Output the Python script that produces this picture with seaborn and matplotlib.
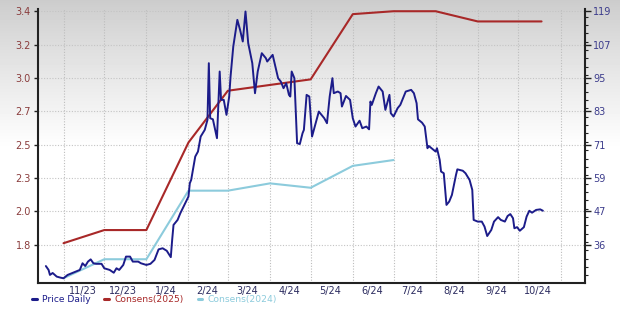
import numpy as np
import pandas as pd
import matplotlib
matplotlib.use("Agg")
import matplotlib.pyplot as plt
import matplotlib.dates as mdates
from matplotlib.lines import Line2D
from matplotlib.ticker import MultipleLocator
import seaborn as sns

# ---------------- data ----------------
price_dates = [
    "2023-10-19", "2023-10-21", "2023-10-22", "2023-10-24", "2023-10-27", "2023-10-30",
    "2023-11-01", "2023-11-04", "2023-11-07", "2023-11-10", "2023-11-13", "2023-11-15",
    "2023-11-17", "2023-11-19", "2023-11-21", "2023-11-23", "2023-11-25", "2023-11-29",
    "2023-12-01", "2023-12-05", "2023-12-08", "2023-12-10", "2023-12-12", "2023-12-15",
    "2023-12-17", "2023-12-20", "2023-12-22", "2023-12-26", "2023-12-28", "2024-01-01",
    "2024-01-04", "2024-01-07", "2024-01-10", "2024-01-13", "2024-01-16", "2024-01-19",
    "2024-01-20", "2024-01-21", "2024-01-24", "2024-01-26", "2024-01-29", "2024-02-01",
    "2024-02-02", "2024-02-03", "2024-02-06", "2024-02-08", "2024-02-10", "2024-02-13",
    "2024-02-15", "2024-02-16", "2024-02-17", "2024-02-19", "2024-02-22", "2024-02-24",
    "2024-02-25", "2024-02-27", "2024-02-29", "2024-03-02", "2024-03-03", "2024-03-05",
    "2024-03-08", "2024-03-10", "2024-03-12", "2024-03-14", "2024-03-16", "2024-03-19",
    "2024-03-21", "2024-03-23", "2024-03-26", "2024-03-29", "2024-03-30", "2024-04-03",
    "2024-04-05", "2024-04-07", "2024-04-09", "2024-04-11", "2024-04-13", "2024-04-15",
    "2024-04-16", "2024-04-17", "2024-04-19", "2024-04-21", "2024-04-23", "2024-04-25",
    "2024-04-26", "2024-04-28", "2024-04-30", "2024-05-02", "2024-05-05", "2024-05-07",
    "2024-05-11", "2024-05-13", "2024-05-15", "2024-05-17", "2024-05-18", "2024-05-21",
    "2024-05-23", "2024-05-24", "2024-05-27", "2024-05-30", "2024-06-01", "2024-06-03",
    "2024-06-06", "2024-06-08", "2024-06-11", "2024-06-13", "2024-06-14", "2024-06-15",
    "2024-06-18", "2024-06-20", "2024-06-23", "2024-06-25", "2024-06-28", "2024-06-29",
    "2024-07-01", "2024-07-04", "2024-07-06", "2024-07-10", "2024-07-14", "2024-07-16",
    "2024-07-18", "2024-07-19", "2024-07-22", "2024-07-24", "2024-07-26", "2024-07-27",
    "2024-07-30", "2024-08-01", "2024-08-02", "2024-08-04", "2024-08-05", "2024-08-07",
    "2024-08-09", "2024-08-11", "2024-08-13", "2024-08-16", "2024-08-17", "2024-08-21",
    "2024-08-23", "2024-08-26", "2024-08-28", "2024-08-29", "2024-09-01", "2024-09-04",
    "2024-09-06", "2024-09-08", "2024-09-11", "2024-09-13", "2024-09-16", "2024-09-18",
    "2024-09-21", "2024-09-23", "2024-09-25", "2024-09-27", "2024-09-28", "2024-09-30",
    "2024-10-02", "2024-10-05", "2024-10-07", "2024-10-09", "2024-10-11", "2024-10-14",
    "2024-10-17", "2024-10-19",
]
price_values = [
    27.3, 25.9, 24.1, 24.8, 23.5, 23.1,
    22.9, 24.1, 24.7, 25.3, 25.9, 28.3,
    27.3, 28.9, 29.7, 28.3, 28.1, 28.1,
    26.5, 25.9, 24.9, 26.5, 25.9, 27.7,
    30.7, 30.7, 28.9, 28.9, 28.3, 27.7,
    28.1, 29.5, 33.3, 33.7, 32.8, 30.5,
    36.7, 42.1, 43.9, 46.3, 49.3, 52.3,
    57.1, 58.3, 66.7, 68.5, 73.9, 76.3,
    79.9, 100.3, 80.5, 80.1, 73.3, 97.3,
    87.1, 87.1, 81.7, 88.3, 95.5, 106.3,
    115.9, 112.3, 108.1, 118.9, 107.5, 100.3,
    89.5, 97.3, 103.9, 102.1, 100.9, 103.3,
    99.1, 94.9, 93.7, 91.3, 93.1, 88.9,
    88.3, 97.3, 94.9, 71.5, 71.2, 75.1,
    76.3, 88.9, 88.3, 73.9, 79.3, 82.9,
    80.5, 78.7, 88.3, 94.9, 89.5, 90.1,
    89.5, 84.7, 88.5, 87.1, 80.5, 77.5,
    79.6, 76.9, 77.5, 76.5, 86.5, 85.3,
    89.5, 91.9, 90.1, 83.5, 88.9, 82.3,
    81.1, 84.1, 85.3, 90.1, 90.7, 89.5,
    85.9, 80.1, 78.9, 77.5, 69.7, 70.5,
    69.3, 68.5, 69.7, 65.5, 61.3, 60.7,
    49.3, 50.5, 52.9, 60.1, 62.1, 61.6,
    60.7, 58.3, 54.7, 43.9, 43.3, 43.3,
    41.5, 38.1, 40.3, 43.3, 44.9, 43.9,
    43.3, 45.3, 46.0, 44.5, 40.9, 41.3,
    40.0, 41.3, 45.1, 47.2, 46.5, 47.5,
    47.7, 47.2,
]

cons2025_dates = ["2023-11-01", "2023-12-01", "2024-01-01", "2024-02-01", "2024-03-01",
                  "2024-05-01", "2024-06-01", "2024-07-01", "2024-08-01", "2024-09-01",
                  "2024-10-18"]
cons2025_values = [1.81, 1.90, 1.90, 2.50, 2.855, 2.933, 3.38, 3.40, 3.40, 3.33, 3.33]

cons2024_dates = ["2023-11-01", "2023-12-01", "2024-01-01", "2024-02-01", "2024-03-01",
                  "2024-04-01", "2024-05-01", "2024-06-01", "2024-07-01"]
cons2024_values = [1.57, 1.70, 1.70, 2.17, 2.17, 2.22, 2.19, 2.34, 2.38]

left_tick_labels = ["1.8", "2.0", "2.3", "2.5", "2.7", "3.0", "3.2", "3.4"]
right_tick_labels = ["36", "47", "59", "71", "83", "95", "107", "119"]
month_labels = ["11/23", "12/23", "1/24", "2/24", "3/24", "4/24", "5/24", "6/24",
                "7/24", "8/24", "9/24", "10/24"]
legend_labels = ["Price Daily", "Consens(2025)", "Consens(2024)"]

# ---------------- styling ----------------
NAVY = "#1c1c8a"
RED = "#a82828"
LIGHT = "#8ccbdc"
LEFT_TXT = "#8a3c3c"
RIGHT_TXT = "#3c3c8c"
BOTTOM_TXT = "#2c2c60"

sns.set_style("white")
plt.rcParams["font.family"] = ["DejaVu Sans"]

fig = plt.figure(figsize=(6.2, 3.1), dpi=100)

# gradient background
bg = fig.add_axes([0, 0, 1, 1], zorder=-10)
rows = np.linspace(0, 1, 310)
shade = 0.80 + 0.20 * np.clip(rows / 0.48, 0, 1) ** 0.9
bg.imshow(np.tile(shade[:, None], (1, 10)), cmap="gray", vmin=0, vmax=1,
          aspect="auto", extent=[0, 1, 0, 1])
bg.axis("off")

ax = fig.add_axes([38 / 620, 1 - 283 / 310, (585 - 38) / 620, (283 - 9) / 310])
ax.set_facecolor("none")
ax2 = ax.twinx()
ax2.set_facecolor("none")

df_price = pd.DataFrame({"date": pd.to_datetime(price_dates), "value": price_values})
df_c25 = pd.DataFrame({"date": pd.to_datetime(cons2025_dates), "value": cons2025_values})
df_c24 = pd.DataFrame({"date": pd.to_datetime(cons2024_dates), "value": cons2024_values})

sns.lineplot(data=df_c24, x="date", y="value", ax=ax, color=LIGHT, lw=1.5)
sns.lineplot(data=df_c25, x="date", y="value", ax=ax, color=RED, lw=1.5)
sns.lineplot(data=df_price, x="date", y="value", ax=ax2, color=NAVY, lw=1.4)

# y scales (aligned)
r_bottom, r_top = 21.2, 119.8
ax2.set_ylim(r_bottom, r_top)
ax.set_ylim(1.8 + (r_bottom - 35) / 52.5, 1.8 + (r_top - 35) / 52.5)

left_pos = np.linspace(1.8, 3.4, len(left_tick_labels))
ax.set_yticks(left_pos)
ax.set_yticklabels(left_tick_labels)
right_pos = np.arange(35, 120, 12)
ax2.set_yticks(right_pos)
ax2.set_yticklabels(right_tick_labels)
ax2.yaxis.set_minor_locator(MultipleLocator(3))

# x scale
ax.set_xlim(pd.Timestamp("2023-10-13 05:00"), pd.Timestamp("2024-11-19"))
month_starts = pd.date_range("2023-11-01", "2024-11-01", freq="MS")
mid_months = pd.date_range("2023-11-01", "2024-10-01", freq="MS") + pd.Timedelta(days=14)
ax.set_xticks(mid_months)
ax.set_xticklabels(month_labels)
for m in month_starts:
    ax.axvline(m, color="#bdbdbd", lw=0.8, ls=(0, (1, 1.5)), zorder=0)
for p in left_pos:
    ax.axhline(p, color="#c4c4c4", lw=0.8, ls=(0, (1, 1.5)), zorder=0)

for a in (ax, ax2):
    a.set_xlabel("")
    a.set_ylabel("")
    for s in a.spines.values():
        s.set_visible(False)
ax.spines["left"].set_visible(True)
ax.spines["bottom"].set_visible(True)
ax2.spines["right"].set_visible(True)
for s in (ax.spines["left"], ax.spines["bottom"], ax2.spines["right"]):
    s.set_color("#222222")
    s.set_linewidth(1.5)

ax.tick_params(axis="y", left=True, length=3, width=1, colors="#222222",
               labelcolor=LEFT_TXT, labelsize=7, pad=2)
ax.tick_params(axis="x", bottom=False, length=0, labelcolor=BOTTOM_TXT,
               labelsize=7, pad=2.5)
ax2.tick_params(axis="y", which="major", right=True, length=4, width=1,
                colors="#222222", labelcolor=RIGHT_TXT, labelsize=7, pad=2)
ax2.tick_params(axis="y", which="minor", right=True, length=2.5, width=0.8,
                colors="#222222")

# legend
handles = [Line2D([0], [0], color=NAVY, lw=2.2),
           Line2D([0], [0], color=RED, lw=2.2),
           Line2D([0], [0], color=LIGHT, lw=2.2)]
leg = fig.legend(handles, legend_labels, loc="lower left",
                 bbox_to_anchor=(0.042, 0.0), ncol=3, frameon=False,
                 fontsize=6.6, handlelength=0.5, handletextpad=0.6,
                 columnspacing=1.5, borderpad=0.15)
for t, c in zip(leg.get_texts(), [NAVY, RED, LIGHT]):
    t.set_color(c)

fig.savefig("out.png", dpi=100)
